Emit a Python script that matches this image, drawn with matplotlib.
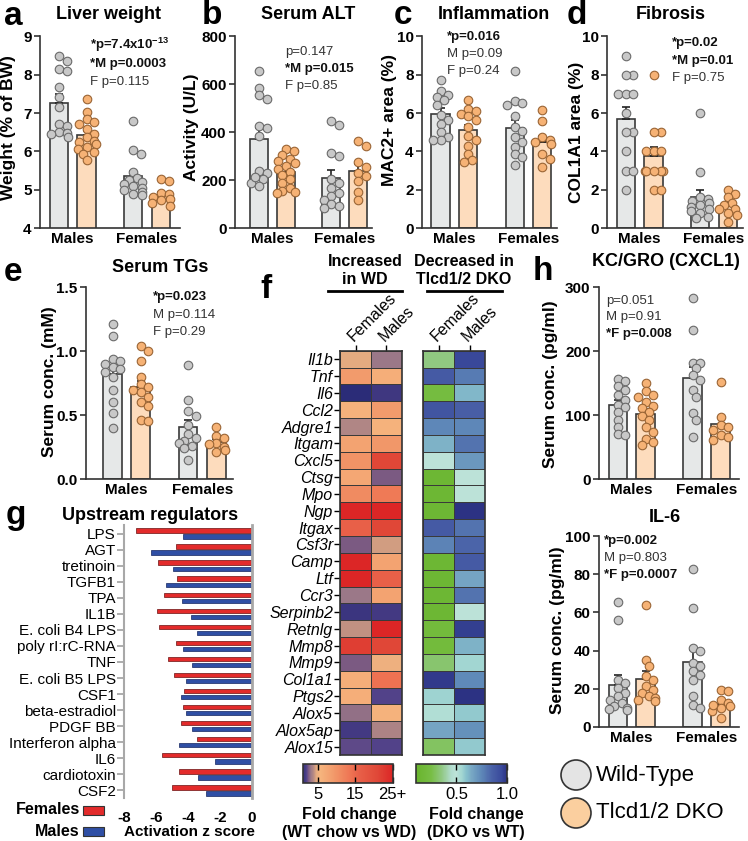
import numpy as np
import matplotlib
matplotlib.use('Agg')
import matplotlib.pyplot as plt
from matplotlib.colors import LinearSegmentedColormap, Normalize
from matplotlib.colorbar import ColorbarBase
from matplotlib.patches import Ellipse, Rectangle

plt.rcParams['font.family'] = ['Liberation Sans', 'DejaVu Sans']
plt.rcParams['mathtext.fontset'] = 'custom'
plt.rcParams['mathtext.rm'] = 'Liberation Sans'
plt.rcParams['mathtext.bf'] = 'Liberation Sans:bold'

W, H = 748, 841

# ---- data ----
# order in each panel: Males WT, Males DKO, Females WT, Females DKO
liver_weight = [
    [8.48, 8.37, 8.14, 8.11, 7.68, 7.41, 7.15, 6.72, 6.67, 6.5, 6.47, 6.37, 6.46],
    [7.36, 7.02, 6.84, 6.76, 6.72, 6.59, 6.46, 6.37, 6.28, 6.24, 6.2, 6.11, 6.07, 5.98, 5.94, 5.77],
    [6.8, 6.03, 5.92, 5.45, 5.3, 5.25, 5.2, 5.15, 5.1, 5.05, 5.0, 4.95, 4.9, 4.85],
    [5.27, 5.24, 4.92, 4.88, 4.82, 4.75, 4.72, 4.65, 4.58],
]
serum_alt = [
    [655, 585, 555, 540, 428, 417, 386, 239, 229, 204, 190, 175, 215],
    [330, 323, 305, 290, 281, 271, 260, 246, 234, 220, 204, 190, 168, 154, 150, 147],
    [445, 431, 313, 302, 204, 187, 168, 147, 133, 119, 102, 91, 84],
    [365, 344, 276, 253, 229, 218, 196, 150, 119],
]
mac2_area = [
    [7.74, 7.15, 6.97, 6.83, 6.66, 6.4, 5.88, 5.62, 5.41, 5.01, 4.75, 4.61, 4.57],
    [6.71, 6.23, 6.09, 5.97, 5.83, 5.62, 5.3, 4.83, 4.57, 4.26, 3.88, 3.53, 3.44],
    [8.19, 6.61, 6.52, 6.4, 5.83, 5.27, 5.06, 4.75, 4.49, 4.23, 3.84, 3.7, 3.27],
    [6.14, 5.58, 4.75, 4.57, 4.49, 4.4, 3.88, 3.62, 3.18],
]
col1a1_area = [
    [9, 8, 8, 7, 7, 7, 6, 5, 5, 4, 3, 3, 2],
    [8, 5, 5, 4, 4, 4, 3, 3, 3, 3, 3, 2, 2],
    [6.0, 2.9, 1.6, 1.5, 1.4, 1.3, 1.2, 1.1, 1.0, 0.9, 0.8, 0.6, 0.5],
    [2.0, 1.8, 1.6, 1.3, 1.2, 1.0, 1.0, 0.8, 0.7, 0.3],
]
serum_tg = [
    [1.21, 1.12, 0.94, 0.92, 0.9, 0.88, 0.86, 0.84, 0.8, 0.7, 0.6, 0.52, 0.4],
    [1.04, 1.0, 0.92, 0.8, 0.74, 0.72, 0.7, 0.68, 0.64, 0.6, 0.57, 0.46, 0.45],
    [0.89, 0.62, 0.53, 0.49, 0.42, 0.35, 0.32, 0.3, 0.28, 0.26, 0.24, 0.15],
    [0.41, 0.34, 0.32, 0.28, 0.25, 0.23, 0.21, 0.27],
]
cxcl1 = [
    [157, 153, 146, 139, 131, 124, 116, 112, 105, 93, 82, 70, 69],
    [151, 137, 131, 129, 121, 114, 111, 105, 98, 92, 82, 74, 62, 53, 58],
    [284, 233, 182, 182, 173, 163, 155, 139, 129, 103, 93, 66],
    [152, 97, 85, 82, 77, 69, 65, 61],
]
il6 = [
    [65.2, 56.1, 24.7, 23, 20.4, 17.8, 16, 14.3, 12.5, 10.8, 9.9, 9.1, 9.4],
    [64, 35.2, 32.1, 26.5, 24.7, 21.3, 19.5, 17.8, 16, 15.2, 14.3, 13.4],
    [82.6, 62.2, 41.3, 39.6, 33.5, 31.7, 29.1, 27.4, 24.7, 16, 11.7, 9.9],
    [19.2, 18.6, 14.3, 12.5, 10.8, 9.9, 8.2, 4.7, 11.7],
]

regulators = ['LPS', 'AGT', 'tretinoin', 'TGFB1', 'TPA', 'IL1B', 'E. coli B4 LPS',
              'poly rI:rC-RNA', 'TNF', 'E. coli B5 LPS', 'CSF1', 'beta-estradiol',
              'PDGF BB', 'Interferon alpha', 'IL6', 'cardiotoxin', 'CSF2']
z_females = [-7.27, -4.76, -5.87, -4.68, -5.49, -5.97, -5.83, -4.76, -5.24, -4.87,
             -4.23, -4.29, -4.44, -3.41, -5.63, -4.57, -5.01]
z_males = [-4.34, -6.33, -4.97, -5.39, -4.40, -3.82, -3.46, -4.30, -3.73, -4.15,
           -4.44, -4.13, -3.75, -4.57, -2.30, -3.35, -2.89]

genes = ['Il1b', 'Tnf', 'Il6', 'Ccl2', 'Adgre1', 'Itgam', 'Cxcl5', 'Ctsg', 'Mpo', 'Ngp',
         'Itgax', 'Csf3r', 'Camp', 'Ltf', 'Ccr3', 'Serpinb2', 'Retnlg', 'Mmp8', 'Mmp9',
         'Col1a1', 'Ptgs2', 'Alox5', 'Alox5ap', 'Alox15']
inc_females = [4.7, 9, 1.0, 6, 3.7, 8, 10, 7.5, 11, 25, 16, 2.5, 25, 25, 3.2, 1.4, 4.0,
               22, 2.5, 6.5, 6.5, 3.0, 1.6, 2.2]
inc_males = [3.2, 6.5, 1.5, 9, 6, 9.5, 21, 2.5, 13, 25, 21, 4.3, 8, 16, 8, 1.6, 25, 21,
             5.2, 14, 2.0, 6, 3.6, 2.0]
dec_females = [0.35, 0.88, 0.22, 0.9, 0.75, 0.63, 0.5, 0.15, 0.15, 0.15, 0.88, 0.76, 0.15,
               0.15, 0.15, 0.15, 0.2, 0.2, 0.32, 0.98, 0.56, 0.52, 0.66, 0.3]
dec_males = [0.95, 0.78, 0.62, 0.86, 0.75, 0.8, 0.7, 0.5, 0.5, 1.0, 0.8, 0.84, 0.88, 0.66,
             0.8, 0.5, 0.97, 0.63, 0.55, 0.74, 1.0, 0.58, 0.72, 0.58]

# ---- style ----
POS = [0, 1, 2.68, 3.68]
FILL = ['#e6e8e8', '#fddcbd']
DOT = ['#c8c8c8', '#f6b275']
DOT_EDGE = ['#6a6a6a', '#9a6535']
EDGE = '#3a3a3a'

fig = plt.figure(figsize=(W / 100, H / 100), dpi=100)


def px_axes(x0, y0, x1, y1):
    return fig.add_axes([x0 / W, 1 - y1 / H, (x1 - x0) / W, (y1 - y0) / H])


def swarm(vals, px_x, px_y, d=8.5, maxw=9):
    # simple beeswarm: place points from top down, nearest free slot to center
    order = np.argsort(vals)[::-1]
    placed = []
    offs = np.zeros(len(vals))
    for i in order:
        y = vals[i] * px_y
        best = None
        for k in range(12):
            for sgn in ([1] if k == 0 else [1, -1]):
                x = sgn * k * d * 0.45
                if all((x - a) ** 2 + (y - b) ** 2 >= (0.8 * d) ** 2 for a, b in placed):
                    best = x
                    break
            if best is not None:
                break
        best = float(np.clip(best if best is not None else 0, -maxw, maxw))
        placed.append((best, y))
        offs[i] = best / px_x
    return offs


def bar_panel(box, groups, ylim, yticks, xlim, fmt='{:g}'):
    x0, y0, x1, y1 = box
    ax = px_axes(x0, y0, x1, y1)
    ax.set_xlim(*xlim)
    ax.set_ylim(*ylim)
    px_x = (x1 - x0) / (xlim[1] - xlim[0])
    px_y = (y1 - y0) / (ylim[1] - ylim[0])
    for i, vals in enumerate(groups):
        vals = np.asarray(vals, float)
        k = i % 2
        m = vals.mean()
        se = vals.std(ddof=1) / np.sqrt(len(vals))
        ax.bar(POS[i], m, 0.66, color=FILL[k], edgecolor=EDGE, lw=1.2, zorder=1)
        ax.errorbar(POS[i], m, yerr=[[0], [se]], color='#222222', lw=1.2, capsize=3,
                    capthick=1.2, zorder=2)
        ax.scatter(POS[i] + swarm(vals, px_x, px_y), vals, s=38, c=DOT[k],
                   edgecolors=DOT_EDGE[k], linewidths=0.8, zorder=3, clip_on=False)
    for s in ['top', 'right']:
        ax.spines[s].set_visible(False)
    for s in ['left', 'bottom']:
        ax.spines[s].set_linewidth(1.2)
        ax.spines[s].set_color('#333333')
    ax.set_yticks(yticks, [fmt.format(t) for t in yticks], fontweight='bold', fontsize=11)
    ax.set_xticks([0.5, (POS[2] + POS[3]) / 2], ['Males', 'Females'], fontweight='bold',
                  fontsize=11)
    ax.tick_params(axis='y', length=4, width=1.2, color='#333333', pad=2)
    ax.tick_params(axis='x', length=0, pad=3)
    return ax


# overlay axes in pixel coords for free text
ov = fig.add_axes([0, 0, 1, 1])
ov.set_xlim(0, W)
ov.set_ylim(H, 0)
ov.axis('off')
ov.set_zorder(10)


def txt(x, y, s, size=12, weight='normal', **kw):
    kw.setdefault('va', 'center')
    ov.text(x, y, s, fontsize=size, fontweight=weight, **kw)


def stats(x, ys, lines):
    for y, (s, b) in zip(ys, lines):
        txt(x, y, s, 9.5, 'bold' if b else 'normal', ha='left',
            color='#111111' if b else '#333333')


# ---- bar panels ----
bar_panel((40, 36.5, 180, 228), liver_weight, (4, 9), [4, 5, 6, 7, 8, 9], (-0.68, 4.37))
bar_panel((235, 36.5, 372, 228), serum_alt, (0, 800), [0, 200, 400, 600, 800], (-0.89, 4.19))
bar_panel((422, 36.5, 557, 228), mac2_area, (0, 10), [0, 2, 4, 6, 8, 10], (-0.67, 4.21))
bar_panel((607, 36.5, 743, 228), col1a1_area, (0, 10), [0, 2, 4, 6, 8, 10], (-0.68, 4.23))
bar_panel((86, 287.3, 233, 479), serum_tg, (0, 1.5), [0, 0.5, 1.0, 1.5], (-0.94, 4.27),
          fmt='{:.1f}')
bar_panel((599, 287.3, 739, 479), cxcl1, (0, 300), [0, 100, 200, 300], (-0.67, 4.34))
bar_panel((599, 536, 739, 727), il6, (0, 100), [0, 20, 40, 60, 80, 100], (-0.67, 4.34))

# titles, letters, y labels
for x, y, s in [(109, 14, 'Liver weight'), (308, 14, 'Serum ALT'), (494, 14, 'Inflammation'),
                (671, 14, 'Fibrosis'), (160, 268, 'Serum TGs'), (666, 262, 'KC/GRO (CXCL1)'),
                (665, 518, 'IL-6'), (150, 515, 'Upstream regulators')]:
    txt(x, y, s, 13, 'bold', ha='center')
for x, y, s in [(4, 25, 'a'), (202, 24, 'b'), (394, 24, 'c'), (567, 24, 'd'), (4, 281, 'e'),
                (260, 298, 'f'), (6, 524, 'g'), (533, 280, 'h')]:
    txt(x, y, s, 24, 'bold', ha='left', va='baseline')
for x, y, s in [(9, 128, 'Weight (% of BW)'), (192, 127, 'Activity (U/L)'),
                (390, 120, 'MAC2+ area (%)'), (577, 132, 'COL1A1 area (%)'),
                (50, 382, 'Serum conc. (mM)'), (551, 384, 'Serum conc. (pg/ml)'),
                (558, 630, 'Serum conc. (pg/ml)')]:
    txt(x, y, s, 12.5, 'bold', ha='center', rotation=90)

stats(90, [45, 64, 82], [(r'*p=7.4x10$^{\mathbf{-13}}$', True), ('*M p=0.0003', True),
                         ('F p=0.115', False)])
stats(285, [52, 69, 86], [('p=0.147', False), ('*M p=0.015', True), ('F p=0.85', False)])
stats(447, [37, 54, 71], [('*p=0.016', True), ('M p=0.09', False), ('F p=0.24', False)])
stats(672, [43, 61, 78], [('*p=0.02', True), ('*M p=0.01', True), ('F p=0.75', False)])
stats(153, [297, 315, 332], [('*p=0.023', True), ('M p=0.114', False), ('F p=0.29', False)])
stats(606, [301, 317, 334], [('p=0.051', False), ('M p=0.91', False), ('*F p=0.008', True)])
stats(604, [541, 558, 575], [('*p=0.002', True), ('M p=0.803', False), ('*F p=0.0007', True)])

# legend (h)
for y, s, k in [(775, 'Wild-Type', 0), (813, 'Tlcd1/2 DKO', 1)]:
    ov.add_patch(Ellipse((576, y), 30, 30, facecolor=['#e4e4e4', '#fbcf9f'][k],
                         edgecolor='#333333', lw=1.2))
    txt(596, y, s, 16, ha='left')

# ---- panel g ----
axg = px_axes(124.3, 525, 251.7, 798)
yy = np.arange(len(regulators))
axg.barh(yy - 0.19, z_females, height=0.27, color='#e32b2b', edgecolor='#6a1010', lw=0.5)
axg.barh(yy + 0.19, z_males, height=0.27, color='#2f4fa5', edgecolor='#142560', lw=0.5)
axg.set_xlim(-8, 0)
axg.set_ylim(len(regulators) - 0.53, -0.53)
axg.set_yticks(yy, regulators, fontsize=11)
axg.set_xticks([-8, -6, -4, -2, 0], ['-8', '-6', '-4', '-2', '0'], fontweight='bold',
               fontsize=11)
axg.tick_params(axis='y', length=5, width=1.2, color='#a0a0a0', pad=1)
axg.tick_params(axis='x', length=0, pad=9)
axg.spines['top'].set_visible(False)
axg.spines['bottom'].set_visible(False)
axg.spines['left'].set_color('#a8a8a8')
axg.spines['left'].set_linewidth(1.5)
axg.spines['right'].set_color('#a8a8a8')
axg.spines['right'].set_linewidth(2)
txt(189, 832, 'Activation z score', 11, 'bold', ha='center')
for y, s, c in [(810, 'Females', '#e32b2b'), (831, 'Males', '#2f4fa5')]:
    txt(80, y, s, 11.5, 'bold', ha='right')
    ov.add_patch(Rectangle((83, y - 4.5), 21, 9, facecolor=c, edgecolor='#333333', lw=0.8))

# ---- panel f heatmaps ----
cmap_wd = LinearSegmentedColormap.from_list('wd', [
    (0, '#2b2c78'), (0.042, '#55448a'), (0.063, '#7b5a82'), (0.09, '#9b7888'),
    (0.125, '#c09082'), (0.15, '#e3aa80'), (0.19, '#f6b57e'), (0.33, '#f29c6c'),
    (0.42, '#f08a60'), (0.54, '#ee7252'), (0.625, '#e86048'), (0.83, '#e04838'),
    (1, '#dc2626')])
cmap_ko = LinearSegmentedColormap.from_list('ko', [
    (0, '#68b42c'), (0.167, '#78be45'), (0.28, '#90c882'), (0.39, '#b3ddd0'),
    (0.44, '#bde3d8'), (0.5, '#a3d7d2'), (0.556, '#86c0cc'), (0.61, '#78a8c4'),
    (0.72, '#5e88b8'), (0.83, '#4a62a8'), (0.94, '#3a4a9c'), (1, '#2c3283')])
norm_wd = Normalize(1, 25)
norm_ko = Normalize(0.1, 1.0)

for box, cols, cmap, norm, show_genes in [
        ((340, 350.7, 402, 755), [inc_females, inc_males], cmap_wd, norm_wd, True),
        ((423.3, 350.7, 485, 755), [dec_females, dec_males], cmap_ko, norm_ko, False)]:
    ax = px_axes(*box)
    ax.pcolormesh(np.column_stack(cols), cmap=cmap, norm=norm, edgecolors='#3a3a3a',
                  linewidth=0.6)
    ax.set_xlim(0, 2)
    ax.set_ylim(len(genes), 0)
    ax.xaxis.tick_top()
    ax.set_xticks([0.5, 1.5], ['Females', 'Males'], rotation=45, ha='left', va='bottom',
                  rotation_mode='anchor', fontsize=11.5)
    if show_genes:
        ax.set_yticks(np.arange(len(genes)) + 0.5, genes, fontstyle='italic', fontsize=11.5)
        ax.tick_params(axis='y', length=4, width=1, pad=1)
    else:
        ax.set_yticks([])
    ax.tick_params(axis='x', length=4, width=1, pad=1)
    for s in ax.spines.values():
        s.set_linewidth(1.2)
        s.set_color('#333333')

txt(365, 262, 'Increased', 11.5, 'bold', ha='center')
txt(365, 280, 'in WD', 11.5, 'bold', ha='center')
txt(464, 262, 'Decreased in', 11.5, 'bold', ha='center')
txt(464, 280, 'Tlcd1/2 DKO', 11.5, 'bold', ha='center')
ov.plot([328, 402], [291, 291], color='k', lw=2)
ov.plot([427, 502], [291, 291], color='k', lw=2)

cax1 = px_axes(302.7, 764, 392.7, 783)
cb1 = ColorbarBase(cax1, cmap=cmap_wd, norm=norm_wd, orientation='horizontal')
cb1.set_ticks([5, 15, 25], labels=['5', '15', '25+'])
cax2 = px_axes(416, 764, 507, 783)
cb2 = ColorbarBase(cax2, cmap=cmap_ko, norm=norm_ko, orientation='horizontal')
cb2.set_ticks([0.5, 1.0], labels=['0.5', '1.0'])
for cb in [cb1, cb2]:
    cb.ax.tick_params(direction='in', length=4, width=1, top=True, bottom=True,
                      labelsize=12, pad=3)
    cb.outline.set_linewidth(1.2)
    cb.outline.set_edgecolor('#333333')
txt(349, 815, 'Fold change', 11.5, 'bold', ha='center')
txt(349, 833, '(WT chow vs WD)', 11.5, 'bold', ha='center')
txt(476, 815, 'Fold change', 11.5, 'bold', ha='center')
txt(476, 833, '(DKO vs WT)', 11.5, 'bold', ha='center')

fig.savefig('out.png', dpi=100)
